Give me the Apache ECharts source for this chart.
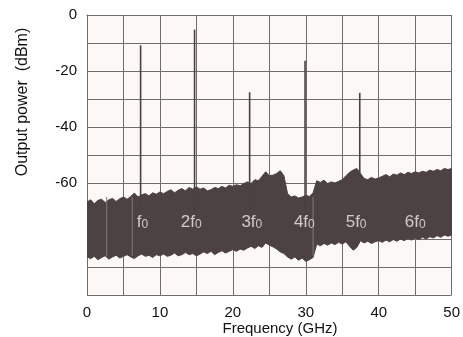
<!DOCTYPE html>
<html>
<head>
<meta charset="utf-8">
<script src="https://cdn.jsdelivr.net/npm/echarts@6/dist/echarts.min.js"></script>
<style>
  html, body { margin: 0; padding: 0; background: #fff; }
  #chart { width: 463px; height: 337px; }
</style>
</head>
<body>
<div id="chart"></div>
<script>
// noise floor, every 0.5 GHz (upper and lower edge, dBm)
var noiseFreq = [
  0, 0.5, 1, 1.5, 2, 2.5, 3, 3.5, 4, 4.5, 5, 5.5, 6, 6.5, 7, 7.5, 8, 8.5, 9, 9.5,
  10, 10.5, 11, 11.5, 12, 12.5, 13, 13.5, 14, 14.5, 15, 15.5, 16, 16.5, 17, 17.5, 18, 18.5, 19, 19.5,
  20, 20.5, 21, 21.5, 22, 22.5, 23, 23.5, 24, 24.5, 25, 25.5, 26, 26.5, 27, 27.5, 28, 28.5, 29, 29.5,
  30, 30.5, 31, 31.5, 32, 32.5, 33, 33.5, 34, 34.5, 35, 35.5, 36, 36.5, 37, 37.5, 38, 38.5, 39, 39.5,
  40, 40.5, 41, 41.5, 42, 42.5, 43, 43.5, 44, 44.5, 45, 45.5, 46, 46.5, 47, 47.5, 48, 48.5, 49, 49.5, 50
];
var noiseTop = [
  -66.8, -66, -67.4, -66.2, -65.8, -67, -66, -65.5, -66.6, -65.6, -65,
  -65.8, -64.8, -63.6, -65, -64.2, -63.8, -64.6, -63.5, -64, -63.2,
  -63.8, -63, -62.4, -63.5, -62.6, -62, -62.8, -61.6, -62.2, -61.4,
  -62.2, -61.8, -62.8, -62.4, -61.6, -62, -61.2, -61.8, -60.8, -61.2,
  -60.6, -61, -60.2, -59.6, -60.2, -58.8, -59.2, -57.6, -56, -57.4,
  -57.2, -56.6, -55.6, -57.4, -63.8, -65, -64.6, -65.4, -65, -64.4,
  -64.8, -63.5, -59.2, -59.8, -59, -60.2, -59.6, -60, -59.4, -58.8,
  -57.4, -56.2, -55.4, -54.8, -56.6, -58.4, -58.8, -58, -58.6, -58.2,
  -57.6, -57, -57.8, -56.8, -57.2, -56.4, -57, -56.2, -56.6, -56,
  -56.4, -55.8, -56.2, -55.4, -55.8, -55.2, -55.6, -54.8, -55.2, -54.8
];
var noiseBottom = [
  -86.4, -87, -86.2, -87.4, -86.6, -86, -87.2, -86.4, -85.8, -86.8, -86.2,
  -85.6, -86.4, -87, -86, -85.4, -86.2, -85.8, -86.6, -85.6, -86,
  -85.4, -86.2, -85.8, -85, -86, -85.6, -84.8, -85.6, -85.2, -86,
  -85.4, -84.6, -85.2, -84.4, -85.6, -84.8, -84.2, -85, -84.4, -83.8,
  -84.4, -83.6, -84, -83.2, -82.6, -83.4, -82.4, -83, -81.4, -82.2,
  -82.8, -83.6, -84.6, -85.2, -86.4, -87.2, -86.4, -87.6, -86.8, -88,
  -87.4, -86.6, -81.8, -82.4, -81.6, -82.2, -81.4, -82, -81.2, -81.8,
  -81, -82.6, -84, -83, -80.6, -81.4, -80.8, -81.6, -81, -80.6,
  -81.2, -80.4, -81, -80.2, -80.8, -80, -80.6, -79.8, -80.4, -79.6,
  -80.2, -79.4, -80, -79.2, -79.6, -78.8, -79.4, -78.6, -79, -78.6
];

// harmonic lines
var spikeFreq = [7.35, 14.75, 22.3, 29.9, 37.4];
var spikePeak = [-10.8, -5.2, -27.6, -16.3, -27.8];

// faint vertical streaks inside the noise band
var streakFreq = [2.7, 6.2, 31.0];

// harmonic labels
var harmLabel = ["f", "2f", "3f", "4f", "5f", "6f"];
var harmLabelFreq = [7.6, 14.3, 22.6, 29.8, 36.9, 45.0];
var harmLabelDb = -73.4;

var xTicks = [0, 10, 20, 30, 40, 50];

var chart = echarts.init(document.getElementById("chart"));

var gridColor = "#716c6b";
var bandColor = "#4b4241";
var font = "Liberation Sans, Arial, sans-serif";

var option = {
  backgroundColor: "#fff",
  animation: false,
  grid: {
    left: 87,
    right: 6,
    top: 15,
    bottom: 42,
    show: true,
    backgroundColor: "#fcf8f6",
    borderWidth: 0
  },
  xAxis: {
    type: "value",
    min: 0,
    max: 50,
    interval: 5,
    axisLine: { lineStyle: { color: gridColor, width: 1 } },
    axisTick: { show: false },
    splitLine: { show: true, lineStyle: { color: gridColor, width: 1 } },
    axisLabel: {
      margin: 10,
      fontFamily: font,
      fontSize: 15,
      color: "#111",
      formatter: function (v) {
        return xTicks.indexOf(v) >= 0 ? String(v) : "";
      }
    }
  },
  yAxis: {
    type: "value",
    min: -100,
    max: 0,
    interval: 10,
    axisLine: { show: true, lineStyle: { color: gridColor, width: 1 } },
    axisTick: { show: false },
    splitLine: { show: true, lineStyle: { color: gridColor, width: 1 } },
    axisLabel: {
      margin: 10,
      fontFamily: font,
      fontSize: 15,
      color: "#111",
      formatter: function (v) {
        return v >= -60 && v % 20 === 0 ? String(v) : "";
      }
    }
  },
  graphic: [
    {
      type: "text",
      x: 23,
      y: 102,
      rotation: Math.PI / 2,
      style: {
        text: "Output power  (dBm)",
        fontFamily: font,
        fontSize: 16,
        fill: "#111",
        align: "center",
        verticalAlign: "middle"
      }
    },
    {
      type: "text",
      x: 280,
      y: 329,
      style: {
        text: "Frequency (GHz)",
        fontFamily: font,
        fontSize: 15,
        fill: "#111",
        align: "center",
        verticalAlign: "middle"
      }
    }
  ],
  series: [
    {
      // noise floor band
      type: "custom",
      data: [[0, 0]],
      clip: true,
      z: 2,
      renderItem: function (params, api) {
        var pts = [];
        for (var i = 0; i < noiseFreq.length; i++) {
          pts.push(api.coord([noiseFreq[i], noiseTop[i]]));
        }
        for (var j = noiseFreq.length - 1; j >= 0; j--) {
          pts.push(api.coord([noiseFreq[j], noiseBottom[j]]));
        }
        return {
          type: "polygon",
          shape: { points: pts },
          style: { fill: bandColor, stroke: bandColor, lineWidth: 1 }
        };
      }
    },
    {
      // streaks
      type: "custom",
      data: streakFreq.map(function (f) { return [f]; }),
      z: 3,
      renderItem: function (params, api) {
        var f = api.value(0);
        var a = api.coord([f, -65]);
        var b = api.coord([f, -86]);
        return {
          type: "line",
          shape: { x1: a[0], y1: a[1], x2: b[0], y2: b[1] },
          style: { stroke: "#857b7a", lineWidth: 1 }
        };
      }
    },
    {
      // harmonic spikes
      type: "custom",
      data: spikeFreq.map(function (f, i) { return [f, spikePeak[i]]; }),
      z: 4,
      renderItem: function (params, api) {
        var a = api.coord([api.value(0), -70]);
        var b = api.coord([api.value(0), api.value(1)]);
        return {
          type: "line",
          shape: { x1: a[0], y1: a[1], x2: b[0], y2: b[1] },
          style: { stroke: "#4a4241", lineWidth: 1.6 }
        };
      }
    },
    {
      // harmonic labels
      type: "scatter",
      symbolSize: 0,
      z: 5,
      data: harmLabelFreq.map(function (f, i) { return { value: [f, harmLabelDb], name: harmLabel[i] }; }),
      label: {
        show: true,
        position: "inside",
        formatter: function (p) { return "{m|" + p.name + "}{s|0}"; },
        rich: {
          m: { fontFamily: font, fontSize: 17, color: "#efeae9", lineHeight: 20, verticalAlign: "bottom" },
          s: { fontFamily: font, fontSize: 12, color: "#efeae9", lineHeight: 20, verticalAlign: "bottom", padding: [6, 0, 0, 0] }
        }
      }
    }
  ]
};

chart.setOption(option);
window.addEventListener("resize", chart.resize);
</script>
</body>
</html>
